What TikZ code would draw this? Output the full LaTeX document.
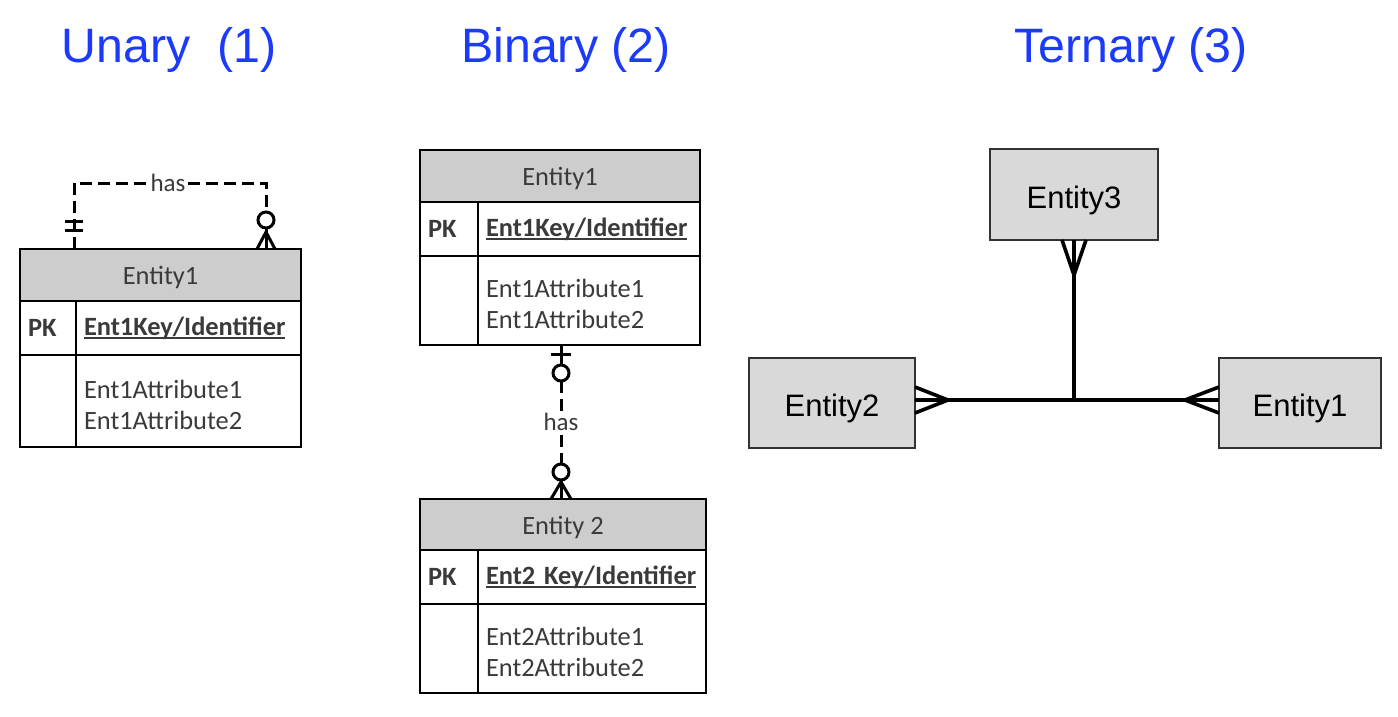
\documentclass[tikz,border=0pt]{standalone}
\usepackage{fontspec}
\setmainfont{Carlito}
\newfontfamily\arialf{Liberation Sans}
\definecolor{ttl}{RGB}{28,58,250}
\definecolor{txt}{RGB}{58,58,58}
\definecolor{hdrfill}{RGB}{205,205,205}
\definecolor{boxfill}{RGB}{217,217,217}
\definecolor{boxline}{RGB}{50,50,50}
\newcommand\keyul[1]{\setbox0\hbox{#1}\rlap{\rule[-3.5pt]{\wd0}{1.8pt}}\box0}
\begin{document}
\begin{tikzpicture}[x=1pt,y=-1pt,
  title/.style={font=\arialf\fontsize{48.3}{58}\selectfont, text=ttl, inner sep=0pt, anchor=base},
  hdr/.style={draw=black, line width=1.6pt, fill=hdrfill, text=txt, font=\fontsize{26.4}{31}\selectfont, anchor=north west, inner sep=0pt, outer sep=0pt, text height=19pt, text depth=0pt},
  cell/.style={draw=black, line width=1.6pt, fill=white, text=txt, font=\fontsize{26.4}{31}\selectfont, anchor=north west, align=left, inner xsep=8pt, inner ysep=0pt, outer sep=0pt},
  lbl/.style={fill=white, text=txt, font=\fontsize{25}{31}\selectfont, inner xsep=1pt, inner ysep=2pt},
  dashline/.style={draw=black, line width=3pt, dash pattern=on 12pt off 6pt},
  solidline/.style={draw=black, line width=3pt},
  tbox/.style={draw=boxline, line width=1.5pt, fill=boxfill, font=\arialf\fontsize{31}{37}\selectfont, inner sep=0pt, outer sep=0pt, text height=27pt, text depth=0pt},
  tline/.style={draw=black, line width=3.6pt, line join=miter}
]
\useasboundingbox (0,0) rectangle (1398,716);

% titles
\node[title] (t-un) at (169,62) {Unary\ \ (1)};
\node[title] (t-bi) at (566,62) {Binary (2)};
\node[title] (t-te) at (1131,62) {Ternary (3)};

% ---------- Unary table ----------
\node[hdr, minimum width=281, minimum height=52] (uh) at (20,249) {Entity1};
\node[cell, minimum height=54, minimum width=56, text width=40] (upk) at (uh.south west) {\bfseries PK};
\node[cell, minimum height=54, minimum width=225, text width=209] (ukey) at (upk.north east) {\bfseries\keyul{Ent1Key/Identifier}};
\node[cell, minimum height=92, minimum width=56, text width=40] (ue) at (upk.south west) {};
\node[cell, minimum height=92, minimum width=225, text width=209] (ua) at (ue.north east) {\rule{0pt}{26pt}Ent1Attribute1\\Ent1Attribute2};

\coordinate (uL) at ([xshift=54pt]uh.north west);
\coordinate (uR) at ([xshift=246pt]uh.north west);
\draw[dashline] (uL) -- ++(0,-66) -| ([yshift=37pt]uR);
\node[lbl] (uhas) at (168,183) {has};
% left: one and only one
\draw[solidline] ([xshift=-9pt,yshift=28pt]uL) -- ([xshift=9pt,yshift=28pt]uL);
\draw[solidline] ([xshift=-9pt,yshift=19pt]uL) -- ([xshift=9pt,yshift=19pt]uL);
% right: zero or many
\draw[solidline, fill=white] ([yshift=29pt]uR) circle[radius=8];
\draw[solidline] ([yshift=21pt]uR) -- (uR);
\draw[solidline] ([xshift=-9pt]uR) -- ([yshift=17pt]uR) -- ([xshift=9pt]uR);

% ---------- Binary tables ----------
\node[hdr, minimum width=280, minimum height=52] (b1h) at (420,150) {Entity1};
\node[cell, minimum height=54, minimum width=58, text width=42] (b1pk) at (b1h.south west) {\bfseries PK};
\node[cell, minimum height=54, minimum width=222, text width=206] (b1key) at (b1pk.north east) {\bfseries\keyul{Ent1Key/Identifier}};
\node[cell, minimum height=89, minimum width=58, text width=42] (b1e) at (b1pk.south west) {};
\node[cell, minimum height=89, minimum width=222, text width=206] (b1a) at (b1e.north east) {\rule{0pt}{26pt}Ent1Attribute1\\Ent1Attribute2};

\node[hdr, minimum width=286, minimum height=51] (b2h) at (420,499) {Entity 2};
\node[cell, minimum height=54, minimum width=58, text width=42] (b2pk) at (b2h.south west) {\bfseries PK};
\node[cell, minimum height=54, minimum width=228, text width=212] (b2key) at (b2pk.north east) {\bfseries\keyul{Ent2 Key/Identifier}};
\node[cell, minimum height=89, minimum width=58, text width=42] (b2e) at (b2pk.south west) {};
\node[cell, minimum height=89, minimum width=228, text width=212] (b2a) at (b2e.north east) {\rule{0pt}{26pt}Ent2Attribute1\\Ent2Attribute2};

\coordinate (bT) at ([xshift=141pt]b1e.south west);
\coordinate (bB) at ([xshift=141pt]b2h.north west);
\draw[solidline] (bT) -- ([yshift=-20pt]bT);
\draw[dashline] ([yshift=-36pt]bT) -- ([yshift=35pt]bB);
\node[lbl] (bhas) at (561,422) {has};
% top: zero or one
\draw[solidline] ([xshift=-10pt,yshift=-9pt]bT) -- ([xshift=10pt,yshift=-9pt]bT);
\draw[solidline, fill=white] ([yshift=-28pt]bT) circle[radius=8];
% bottom: zero or many
\draw[solidline, fill=white] ([yshift=27pt]bB) circle[radius=8];
\draw[solidline] ([yshift=19pt]bB) -- (bB);
\draw[solidline] ([xshift=-10pt]bB) -- ([yshift=17pt]bB) -- ([xshift=10pt]bB);

% ---------- Ternary ----------
\node[tbox, minimum width=168, minimum height=91] (t3) at (1074,194.5) {Entity3};
\node[tbox, minimum width=166, minimum height=90] (t2) at (832,403) {Entity2};
\node[tbox, minimum width=162, minimum height=90] (t1) at (1300,403) {Entity1};

\coordinate (hL) at ([yshift=3pt]t2.east);
\coordinate (hR) at ([yshift=3pt]t1.west);
\coordinate (tj) at (hL -| t3.south);
\draw[tline] (hL) -- (hR);
\draw[tline] (t3.south) -- (tj);
\draw[tline] ([yshift=13pt]hL) -- ([xshift=33pt]hL) -- ([yshift=-13pt]hL);
\draw[tline] ([yshift=13pt]hR) -- ([xshift=-34pt]hR) -- ([yshift=-13pt]hR);
\draw[tline] ([xshift=-12pt]t3.south) -- ([yshift=-35pt]t3.south) -- ([xshift=12pt]t3.south);
\end{tikzpicture}
\end{document}
